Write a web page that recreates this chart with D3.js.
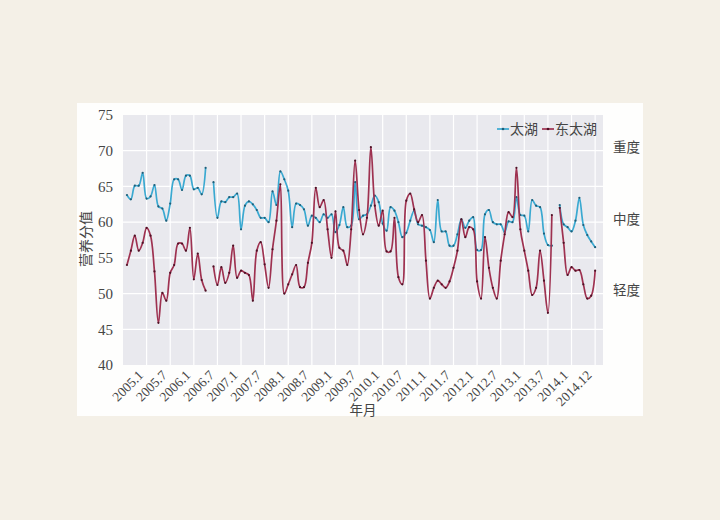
<!DOCTYPE html>
<html>
<head>
<meta charset="utf-8">
<script src="https://cdn.jsdelivr.net/npm/d3@7"></script>
<style>
    html, body { margin: 0; padding: 0; background: #f4f0e7; }
    #chart { width: 720px; height: 520px; }
    text { font-family: "Liberation Serif", "Noto Sans CJK SC", serif; }
    .cjk { font-family: "Noto Sans CJK SC", sans-serif; }
</style>
</head>
<body>
<div id="chart"></div>
<script>

// ==========================
// Data (monthly, null = missing)
// ==========================

const tickLabels = [
    "2005.1", "2005.7", "2006.1", "2006.7", "2007.1", "2007.7",
    "2008.1", "2008.7", "2009.1", "2009.7", "2010.1", "2010.7",
    "2011.1", "2011.7", "2012.1", "2012.7", "2013.1", "2013.7",
    "2014.1", "2014.12"
];

const taihu = [
    63.8, 63.2, 65.1, 65.1, 66.9, 63.3, 63.6, 65.2, 62.2, 61.9,
    60.2, 62.6, 66.0, 66.0, 64.5, 66.5, 66.5, 64.6, 64.8, 63.9,
    67.6, null, 65.6, 60.6, 62.9, 62.8, 63.5, 63.5, 64.0, 59.0,
    62.3, 62.9, 62.5, 61.7, 60.6, 60.6, 60.0, 64.3, 62.4, 67.1,
    66.0, 64.4, 59.3, 62.6, 62.4, 61.8, 59.5, 60.9, 60.6, 60.0,
    61.1, 60.6, 61.1, 58.6, 59.6, 62.1, 59.3, 59.5, 65.6, 60.4,
    60.9, 61.1, 62.3, 63.7, 62.8, 59.8, 58.8, 62.1, 61.6, 60.0,
    57.9, 58.5, 60.2, 61.6, 59.7, 59.5, 59.3, 58.9, 57.2, 63.1,
    58.7, 58.7, 56.7, 56.7, 58.3, 60.4, 59.2, 60.2, 60.7, 56.1,
    56.1, 61.1, 61.7, 60.0, 59.7, 59.7, 58.6, 60.1, 60.0, 63.5,
    61.0, 60.9, 58.7, 63.1, 62.3, 62.1, 58.4, 56.8, 56.7, null,
    62.4, 59.7, 59.3, 58.7, 60.2, 63.4, 59.6, 58.2, 57.3, 56.5
];

const dongTaihu = [
    54.0, 56.0, 58.1, 56.0, 57.1, 59.2, 58.1, 53.1, 45.9, 50.1,
    49.0, 52.9, 54.0, 57.0, 57.0, 56.0, 59.2, 52.0, 55.6, 51.9,
    50.4, null, 53.8, 51.2, 53.7, 51.5, 52.9, 56.7, 52.2, 53.2,
    52.9, 52.6, 49.0, 56.0, 57.2, 54.1, 50.8, 56.2, 60.2, 65.3,
    50.0, 51.3, 52.7, 54.0, 50.9, 50.9, 54.3, 57.1, 64.8, 62.1,
    63.1, 59.0, 55.0, 61.5, 56.4, 56.0, 54.0, 59.0, 68.6, 61.7,
    58.3, 60.6, 70.5, 62.3, 59.5, 61.6, 55.9, 55.9, 60.6, 52.3,
    51.3, 63.0, 64.0, 61.8, 60.0, 61.0, 54.6, 49.3, 50.8, 51.8,
    51.3, 50.8, 51.7, 53.6, 56.0, 60.4, 57.9, 59.3, 59.0, 51.7,
    49.3, 57.9, 53.6, 50.8, 49.3, 54.6, 58.3, 61.4, 60.7, 67.6,
    59.0, 56.0, 53.2, 49.8, 50.8, 56.0, 51.8, 47.3, 61.0, null,
    62.0, 57.1, 52.6, 53.7, 53.2, 53.3, 51.3, 49.3, 49.7, 53.2
];

const yTicks = [40, 45, 50, 55, 60, 65, 70, 75];

const levelLabels = [
    { text: "重度", value: 70 },
    { text: "中度", value: 60 },
    { text: "轻度", value: 50 }
];

const seriesNames = ["太湖", "东太湖"];

// ==========================
// SVG Setup
// ==========================

const width = 720;
const height = 520;

const plot = { left: 123, right: 603, top: 115, bottom: 365 };

const blue = "#3aa9d1";
const red = "#9e3150";
const textColor = "#454545";

const svg = d3.select("#chart").append("svg")
    .attr("width", width)
    .attr("height", height);

svg.append("rect")
    .attr("x", 77)
    .attr("y", 103)
    .attr("width", 566)
    .attr("height", 313)
    .attr("fill", "#fefefd");

svg.append("rect")
    .attr("x", plot.left)
    .attr("y", plot.top)
    .attr("width", plot.right - plot.left)
    .attr("height", plot.bottom - plot.top)
    .attr("fill", "#e9e9ee");

// ==========================
// Scales
// ==========================

const xScale = d3.scaleLinear()
    .domain([-1, 121])
    .range([plot.left, plot.right]);

const yScale = d3.scaleLinear()
    .domain([40, 75])
    .range([plot.bottom, plot.top]);

const tickIdx = tickLabels.map((d, i) => 5 + i * 6);

// ==========================
// Grid
// ==========================

svg.append("g")
    .selectAll("line")
    .data(yTicks.slice(1, -1))
    .enter()
    .append("line")
    .attr("x1", plot.left)
    .attr("x2", plot.right)
    .attr("y1", d => yScale(d))
    .attr("y2", d => yScale(d))
    .attr("stroke", "#fff")
    .attr("stroke-width", 1.2);

svg.append("g")
    .selectAll("line")
    .data(tickIdx)
    .enter()
    .append("line")
    .attr("x1", d => xScale(d))
    .attr("x2", d => xScale(d))
    .attr("y1", plot.top)
    .attr("y2", plot.bottom)
    .attr("stroke", "#fff")
    .attr("stroke-width", 1.2);

// ==========================
// Axes
// ==========================

const yAxis = d3.axisLeft(yScale)
    .tickValues(yTicks)
    .tickSize(0)
    .tickPadding(10);

svg.append("g")
    .attr("transform", `translate(${plot.left},0)`)
    .call(yAxis)
    .call(g => g.select(".domain").remove())
    .selectAll("text")
    .style("font-size", "15px")
    .style("font-family", "Liberation Serif")
    .attr("fill", textColor);

const xAxis = d3.axisBottom(xScale)
    .tickValues(tickIdx)
    .tickFormat((d, i) => tickLabels[i])
    .tickSize(0);

svg.append("g")
    .attr("transform", `translate(0,${plot.bottom})`)
    .call(xAxis)
    .call(g => g.select(".domain").remove())
    .selectAll("text")
    .style("font-size", "13.5px")
    .style("font-family", "Liberation Serif")
    .attr("fill", textColor)
    .attr("text-anchor", "end")
    .attr("dy", null)
    .attr("y", 0)
    .attr("transform", "translate(-3,11) rotate(-45)");

svg.append("text")
    .attr("class", "cjk")
    .attr("transform", "translate(91,239) rotate(-90)")
    .attr("text-anchor", "middle")
    .style("font-size", "14px")
    .attr("fill", textColor)
    .text("营养分值");

svg.append("text")
    .attr("class", "cjk")
    .attr("x", (plot.left + plot.right) / 2)
    .attr("y", 415)
    .attr("text-anchor", "middle")
    .style("font-size", "13.5px")
    .attr("fill", textColor)
    .text("年月");

// ==========================
// Level labels on the right
// ==========================

svg.selectAll(".level")
    .data(levelLabels)
    .enter()
    .append("text")
    .attr("class", "cjk")
    .attr("x", 613)
    .attr("y", d => yScale(d.value) - 3)
    .attr("dy", "0.35em")
    .style("font-size", "13.5px")
    .attr("fill", textColor)
    .text(d => d.text);

// ==========================
// Lines
// ==========================

const line = d3.line()
    .defined(d => d != null)
    .x((d, i) => xScale(i))
    .y(d => yScale(d))
    .curve(d3.curveCatmullRom.alpha(0.5));

const series = [
    { name: seriesNames[0], values: taihu, color: blue, dot: "#1f5e78" },
    { name: seriesNames[1], values: dongTaihu, color: red, dot: "#4d1125" }
];

series.forEach(s => {

    svg.append("path")
        .datum(s.values)
        .attr("fill", "none")
        .attr("stroke", s.color)
        .attr("stroke-width", 1.7)
        .attr("d", line);

    svg.append("g")
        .selectAll("circle")
        .data(s.values.map((v, i) => ({ v, i })).filter(d => d.v != null))
        .enter()
        .append("circle")
        .attr("cx", d => xScale(d.i))
        .attr("cy", d => yScale(d.v))
        .attr("r", 1.1)
        .attr("fill", s.dot);

});

// ==========================
// Legend
// ==========================

const legend = svg.append("g")
    .attr("transform", "translate(497,129)");

let lx = 0;

series.forEach(s => {

    legend.append("line")
        .attr("x1", lx)
        .attr("x2", lx + 12)
        .attr("stroke", s.color)
        .attr("stroke-width", 1.7);

    legend.append("circle")
        .attr("cx", lx + 6)
        .attr("r", 1.3)
        .attr("fill", s.dot);

    const t = legend.append("text")
        .attr("class", "cjk")
        .attr("x", lx + 13)
        .attr("dy", "0.35em")
        .style("font-size", "14px")
        .attr("fill", textColor)
        .text(s.name);

    lx += 13 + t.node().getComputedTextLength() + 4;

});

</script>
</body>
</html>
